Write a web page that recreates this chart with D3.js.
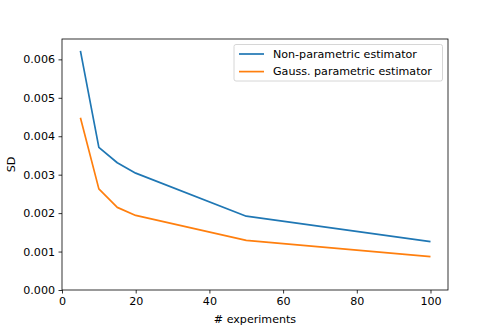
<!DOCTYPE html>
<html>
<head>
<meta charset="utf-8">
<script src="https://cdn.jsdelivr.net/npm/d3@7"></script>
<style>
  body { margin: 0; background: #fff; }
  svg { font-family: "DejaVu Sans", sans-serif; }
</style>
</head>
<body>
<div id="chart"></div>
<script>
var experiments = [5, 10, 15, 20, 50, 100];
var nonParametric = [0.00622, 0.00371, 0.00331, 0.00304, 0.00192, 0.00126];
var gaussParametric = [0.00448, 0.00263, 0.00215, 0.00194, 0.00129, 0.00087];
var xTicks = [0, 20, 40, 60, 80, 100];
var yTicks = [0, 0.001, 0.002, 0.003, 0.004, 0.005, 0.006];
var seriesNames = ['Non-parametric estimator', 'Gauss. parametric estimator'];
var seriesColors = ['#1f77b4', '#ff7f0e'];

var width = 498, height = 332;
var padding = {t: 39, r: 50, b: 42, l: 62};
var chartWidth = width - padding.l - padding.r;
var chartHeight = height - padding.t - padding.b;
var fontSize = '11.1px';

var svg = d3.select('#chart').append('svg')
	.attr('width', width)
	.attr('height', height);

var xScale = d3.scaleLinear().domain([0, 104.75]).range([0, chartWidth]);
var yScale = d3.scaleLinear().domain([0, 0.00653]).range([chartHeight, 0]);

var chartG = svg.append('g')
	.attr('transform', 'translate(' + [padding.l, padding.t] + ')');

// axes
var xAxis = chartG.append('g')
	.attr('transform', 'translate(0,' + chartHeight + ')')
	.call(d3.axisBottom(xScale).tickValues(xTicks).tickSize(3.5).tickPadding(3.5).tickFormat(d3.format('d')));
var yAxis = chartG.append('g')
	.call(d3.axisLeft(yScale).tickValues(yTicks).tickSize(3.5).tickPadding(3.5).tickFormat(d3.format('.3f')));

[xAxis, yAxis].forEach(function(a) {
	a.select('.domain').remove();
	a.selectAll('line').attr('stroke', '#000').attr('stroke-width', 0.8);
	a.selectAll('text').attr('fill', '#000').style('font-size', fontSize)
		.style('font-family', '"DejaVu Sans", sans-serif');
});

// lines
var series = [nonParametric, gaussParametric];
var line = d3.line()
	.x(function(d, i) { return xScale(experiments[i]); })
	.y(function(d) { return yScale(d); });

series.forEach(function(s, k) {
	chartG.append('path')
		.datum(s)
		.attr('fill', 'none')
		.attr('stroke', seriesColors[k])
		.attr('stroke-width', 1.7)
		.attr('stroke-linejoin', 'round')
		.attr('d', line);
});

// frame
chartG.append('rect')
	.attr('width', chartWidth)
	.attr('height', chartHeight)
	.attr('fill', 'none')
	.attr('stroke', '#000')
	.attr('stroke-width', 0.8);

// axis labels
svg.append('text')
	.attr('x', padding.l + chartWidth / 2)
	.attr('y', 322.5)
	.attr('text-anchor', 'middle')
	.style('font-size', fontSize)
	.text('# experiments');

svg.append('text')
	.attr('transform', 'translate(14.5,' + (padding.t + chartHeight / 2) + ') rotate(-90)')
	.attr('text-anchor', 'middle')
	.style('font-size', fontSize)
	.text('SD');

// legend
var legendG = svg.append('g').attr('transform', 'translate(234,44.5)');
legendG.append('rect')
	.attr('width', 208.5)
	.attr('height', 36.5)
	.attr('rx', 2)
	.attr('fill', '#fff')
	.attr('fill-opacity', 0.8)
	.attr('stroke', '#ccc')
	.attr('stroke-width', 0.8);

var enterLegend = legendG.selectAll('g.item')
	.data(seriesNames)
	.enter()
	.append('g')
	.attr('class', 'item')
	.attr('transform', function(d, i) {
		return 'translate(5,' + (9.5 + i * 17.6) + ')';
	});
enterLegend.append('line')
	.attr('x1', 0).attr('x2', 25)
	.attr('stroke', function(d, i) { return seriesColors[i]; })
	.attr('stroke-width', 1.7);
enterLegend.append('text')
	.attr('x', 34)
	.attr('dy', '0.35em')
	.style('font-size', fontSize)
	.text(function(d) { return d; });
</script>
</body>
</html>
